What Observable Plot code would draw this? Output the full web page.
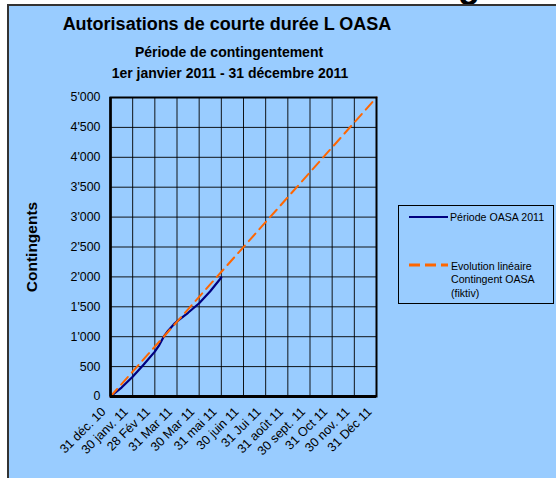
<!DOCTYPE html>
<html>
<head>
<meta charset="utf-8">
<script src="https://cdn.jsdelivr.net/npm/d3@7"></script>
<script src="https://cdn.jsdelivr.net/npm/@observablehq/plot@0.6"></script>
<style>
  html, body { margin: 0; padding: 0; background: #fff; }
  #wrap { position: relative; width: 556px; height: 478px; overflow: hidden; font-family: "Liberation Sans", Arial, sans-serif; }
  #bg { position: absolute; left: 7px; top: 4px; right: -4px; bottom: -4px; background: #99CCFF; border-left: 2px solid #333; border-top: 2px solid #333; }
  #chart { position: absolute; left: 0; top: 0; }
  svg.overlay { position: absolute; left: 0; top: 0; }
</style>
</head>
<body>
<div id="wrap">
  <svg class="overlay" width="556" height="478" style="z-index:0">
    <text x="458" y="-3" font-size="36" font-weight="bold" fill="#000" font-family="Liberation Sans, Arial, sans-serif">g</text>
  </svg>
  <div id="bg"></div>
  <div id="chart"></div>
  <svg class="overlay" id="deco" width="556" height="478" font-family="Liberation Sans, Arial, sans-serif"></svg>
</div>
<script>
// ---- data ----
const title = "Autorisations de courte durée L OASA";
const subtitle1 = "Période de contingentement";
const subtitle2 = "1er janvier 2011 - 31 décembre 2011";
const yTitle = "Contingents";

const monthLabels = ["31 déc. 10","30 janv. 11","28 Fév 11","31 Mar 11","30 Mar 11","31 mai 11","30 juin 11","31 Jui 11","31 août 11","30 sept. 11","31 Oct 11","30 nov. 11","31 Déc 11"];
const yTicks = [0, 500, 1000, 1500, 2000, 2500, 3000, 3500, 4000, 4500, 5000];
const yTickLabels = ["0","500","1'000","1'500","2'000","2'500","3'000","3'500","4'000","4'500","5'000"];

// Période OASA 2011 (position in months since 31 déc. 10, cumulative count)
const oasaMonth = [0, 0.5, 1, 1.5, 2, 2.2, 2.4, 2.6, 2.9, 3, 3.5, 4, 4.5, 5];
const oasaValue = [0, 150, 330, 535, 750, 860, 1000, 1100, 1225, 1255, 1400, 1560, 1760, 1990];

// Evolution linéaire Contingent OASA (fiktiv)
const linMonth = [0, 12];
const linValue = [0, 5000];

const legendLabels = ["Période OASA 2011", ["Evolution linéaire", "Contingent OASA", "(fiktiv)"]];
const colBlue = "#000080";
const colOrange = "#FF6600";

// ---- tables ----
const oasa = oasaMonth.map((m, i) => ({m, v: oasaValue[i]}));
const lin = linMonth.map((m, i) => ({m, v: linValue[i]}));
const monthIdx = d3.range(monthLabels.length);

const chart = Plot.plot({
  width: 556,
  height: 478,
  marginLeft: 110,
  marginRight: 180,
  marginTop: 97,
  marginBottom: 82,
  style: {background: "transparent", fontFamily: "Liberation Sans, Arial, sans-serif", color: "#000"},
  x: {domain: [0, 12]},
  y: {domain: [0, 5000]},
  marks: [
    Plot.gridX(monthIdx.slice(1, -1), {stroke: "#000", strokeOpacity: 0.9, strokeWidth: 1}),
    Plot.gridY(yTicks.slice(1, -1), {stroke: "#000", strokeOpacity: 0.9, strokeWidth: 1}),
    Plot.axisY(yTicks, {tickSize: 0, tickPadding: 10, fontSize: 12.4, label: null,
      tickFormat: d => yTickLabels[yTicks.indexOf(d)]}),
    Plot.axisX([], {label: null}),
    Plot.text(monthIdx, {x: d => d, text: d => monthLabels[d], frameAnchor: "bottom",
      rotate: -45, textAnchor: "end", lineAnchor: "bottom", dx: -4, dy: 16, fontSize: 12.6, fill: "#000"}),
    Plot.line(oasa, {x: "m", y: "v", stroke: colBlue, strokeWidth: 2.2}),
    Plot.line(lin, {x: "m", y: "v", stroke: colOrange, strokeWidth: 2, strokeDasharray: "10,6"}),
    Plot.frame({stroke: "#000", strokeWidth: 2}),
    Plot.ruleY([0], {stroke: "#000", strokeWidth: 3}),
    Plot.ruleX([0], {stroke: "#000", strokeWidth: 2.5})
  ]
});
document.getElementById("chart").appendChild(chart);

// ---- titles, axis title, legend ----
const deco = d3.select("#deco");
deco.append("text").attr("x", 227).attr("y", 30).attr("text-anchor", "middle")
  .attr("font-size", 18).attr("font-weight", "bold").text(title);
deco.append("text").attr("x", 229).attr("y", 57).attr("text-anchor", "middle")
  .attr("font-size", 14).attr("font-weight", "bold").text(subtitle1);
deco.append("text").attr("x", 230).attr("y", 78).attr("text-anchor", "middle")
  .attr("font-size", 14).attr("font-weight", "bold").text(subtitle2);
deco.append("text").attr("transform", "translate(37,247) rotate(-90)").attr("text-anchor", "middle")
  .attr("font-size", 15.5).attr("font-weight", "bold").text(yTitle);

const lg = deco.append("g");
lg.append("rect").attr("x", 398.5).attr("y", 205.5).attr("width", 155).attr("height", 98)
  .attr("fill", "none").attr("stroke", "#000").attr("stroke-width", 1);
lg.append("line").attr("x1", 409).attr("x2", 448).attr("y1", 217).attr("y2", 217)
  .attr("stroke", colBlue).attr("stroke-width", 2);
lg.append("text").attr("x", 450).attr("y", 220.5).attr("font-size", 10.6).text(legendLabels[0]);
lg.append("line").attr("x1", 409).attr("x2", 448).attr("y1", 265).attr("y2", 265)
  .attr("stroke", colOrange).attr("stroke-width", 3).attr("stroke-dasharray", "11,5");
legendLabels[1].forEach((t, i) => {
  lg.append("text").attr("x", 451).attr("y", 269.5 + i * 13.5).attr("font-size", 10.6).text(t);
});
</script>
</body>
</html>
